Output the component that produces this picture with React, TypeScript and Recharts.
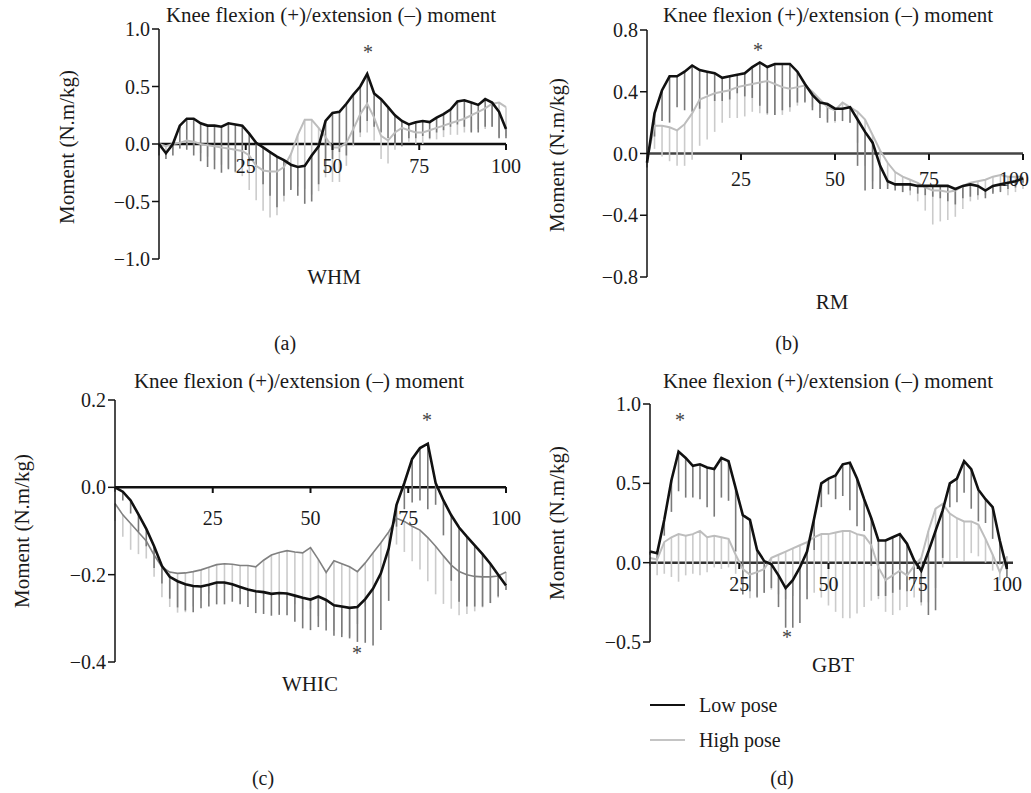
import React from 'react';
import { ComposedChart, Line, XAxis, YAxis, ReferenceLine, ErrorBar } from 'recharts';

// gait / movement cycle (%)
const pct = [0, 2, 4, 6, 8, 10, 12, 14, 16, 18, 20, 22, 24, 26, 28, 30, 32, 34, 36, 38, 40, 42, 44, 46, 48, 50, 52, 54, 56, 58, 60, 62, 64, 66, 68, 70, 72, 74, 76, 78, 80, 82, 84, 86, 88, 90, 92, 94, 96, 98, 100];
const xTickValues = [25, 50, 75, 100];

// (a) WHM
const whmLow = [0.0, -0.08, 0.0, 0.16, 0.22, 0.22, 0.18, 0.16, 0.16, 0.15, 0.18, 0.17, 0.16, 0.09, 0.01, -0.03, -0.07, -0.11, -0.14, -0.18, -0.2, -0.19, -0.1, -0.02, 0.2, 0.27, 0.28, 0.35, 0.43, 0.5, 0.61, 0.44, 0.39, 0.32, 0.25, 0.2, 0.17, 0.19, 0.2, 0.19, 0.23, 0.26, 0.3, 0.37, 0.38, 0.36, 0.34, 0.39, 0.36, 0.28, 0.13];
const whmHigh = [0.0, -0.02, 0.0, 0.01, 0.03, 0.02, 0.0, -0.01, -0.02, -0.03, -0.04, -0.05, -0.06, -0.1, -0.19, -0.23, -0.24, -0.24, -0.2, -0.09, 0.08, 0.21, 0.21, 0.14, 0.06, -0.03, -0.03, 0.01, 0.13, 0.26, 0.35, 0.23, 0.07, 0.03, 0.1, 0.14, 0.12, 0.1, 0.1, 0.12, 0.14, 0.16, 0.18, 0.2, 0.22, 0.25, 0.28, 0.31, 0.35, 0.36, 0.32];
const whmLowSd = [0.1, 0.05, 0.1, 0.2, 0.27, 0.32, 0.33, 0.36, 0.38, 0.4, 0.4, 0.41, 0.36, 0.24, 0.21, 0.32, 0.38, 0.44, 0.31, 0.22, 0.25, 0.33, 0.4, 0.33, 0.45, 0.4, 0.35, 0.45, 0.43, 0.4, 0.41, 0.29, 0.29, 0.27, 0.25, 0.22, 0.12, 0.14, 0.13, 0.14, 0.13, 0.14, 0.15, 0.2, 0.23, 0.26, 0.24, 0.24, 0.21, 0.23, 0.08];
const whmHighSd = [0.05, 0.08, 0.05, 0.05, 0.05, 0.06, 0.08, 0.1, 0.12, 0.15, 0.17, 0.2, 0.22, 0.3, 0.3, 0.35, 0.4, 0.38, 0.3, 0.3, 0.45, 0.6, 0.65, 0.55, 0.35, 0.3, 0.3, 0.2, 0.15, 0.2, 0.25, 0.2, 0.2, 0.2, 0.15, 0.12, 0.1, 0.1, 0.1, 0.08, 0.1, 0.1, 0.1, 0.12, 0.12, 0.14, 0.15, 0.18, 0.2, 0.3, 0.25];

// (b) RM
const rmLow = [-0.06, 0.26, 0.41, 0.5, 0.5, 0.53, 0.57, 0.54, 0.53, 0.52, 0.49, 0.5, 0.51, 0.52, 0.56, 0.59, 0.56, 0.58, 0.58, 0.58, 0.53, 0.45, 0.38, 0.33, 0.32, 0.29, 0.29, 0.3, 0.22, 0.14, 0.07, -0.08, -0.18, -0.2, -0.2, -0.2, -0.21, -0.21, -0.21, -0.21, -0.21, -0.23, -0.21, -0.2, -0.21, -0.24, -0.21, -0.2, -0.19, -0.18, -0.16];
const rmHigh = [-0.04, 0.18, 0.18, 0.17, 0.15, 0.19, 0.26, 0.35, 0.37, 0.39, 0.4, 0.41, 0.43, 0.44, 0.45, 0.46, 0.47, 0.45, 0.43, 0.42, 0.43, 0.44, 0.4, 0.35, 0.3, 0.28, 0.33, 0.3, 0.27, 0.22, 0.12, 0.02, -0.06, -0.12, -0.15, -0.17, -0.19, -0.22, -0.24, -0.24, -0.25, -0.24, -0.21, -0.19, -0.18, -0.17, -0.15, -0.14, -0.15, -0.15, -0.15];
const rmLowSd = [0.03, 0.15, 0.2, 0.3, 0.2, 0.25, 0.3, 0.25, 0.15, 0.18, 0.15, 0.15, 0.12, 0.15, 0.2, 0.28, 0.3, 0.33, 0.3, 0.28, 0.2, 0.12, 0.1, 0.1, 0.12, 0.08, 0.08, 0.1, 0.3, 0.38, 0.3, 0.15, 0.05, 0.04, 0.05, 0.04, 0.05, 0.06, 0.07, 0.08, 0.1, 0.1, 0.08, 0.08, 0.06, 0.05, 0.05, 0.05, 0.04, 0.04, 0.03];
const rmHighSd = [0.02, 0.15, 0.2, 0.22, 0.23, 0.27, 0.3, 0.3, 0.28, 0.25, 0.2, 0.18, 0.2, 0.2, 0.18, 0.2, 0.22, 0.2, 0.18, 0.15, 0.12, 0.1, 0.1, 0.08, 0.08, 0.08, 0.05, 0.1, 0.2, 0.3, 0.3, 0.25, 0.15, 0.1, 0.1, 0.1, 0.12, 0.15, 0.22, 0.2, 0.18, 0.17, 0.15, 0.12, 0.12, 0.1, 0.1, 0.1, 0.12, 0.1, 0.08];

// (c) WHIC
const whicLow = [0.0, -0.01, -0.03, -0.062, -0.095, -0.135, -0.18, -0.205, -0.215, -0.222, -0.226, -0.227, -0.223, -0.218, -0.218, -0.222, -0.228, -0.234, -0.238, -0.24, -0.244, -0.242, -0.243, -0.248, -0.253, -0.257, -0.25, -0.258, -0.27, -0.273, -0.276, -0.274, -0.256, -0.232, -0.197, -0.14, -0.04, 0.01, 0.065, 0.09, 0.1, 0.01, -0.03, -0.064, -0.092, -0.113, -0.133, -0.153, -0.175, -0.2, -0.225];
const whicHigh = [-0.037, -0.063, -0.083, -0.103, -0.123, -0.155, -0.182, -0.194, -0.197, -0.196, -0.193, -0.189, -0.183, -0.177, -0.175, -0.176, -0.179, -0.179, -0.182, -0.167, -0.155, -0.149, -0.145, -0.148, -0.15, -0.138, -0.165, -0.195, -0.168, -0.175, -0.182, -0.193, -0.173, -0.15, -0.127, -0.102, -0.071, -0.078, -0.089, -0.098, -0.115, -0.135, -0.157, -0.178, -0.193, -0.2, -0.204, -0.205, -0.205, -0.203, -0.194];
const whicLowSd = [0.01, 0.02, 0.03, 0.04, 0.04, 0.05, 0.04, 0.05, 0.06, 0.06, 0.06, 0.05, 0.05, 0.05, 0.05, 0.04, 0.04, 0.04, 0.05, 0.05, 0.05, 0.05, 0.05, 0.06, 0.07, 0.07, 0.07, 0.07, 0.07, 0.07, 0.07, 0.08, 0.1, 0.13, 0.13, 0.12, 0.05, 0.06, 0.1, 0.12, 0.15, 0.05, 0.08, 0.15, 0.17, 0.16, 0.14, 0.12, 0.09, 0.05, 0.01];
const whicHighSd = [0.04, 0.05, 0.06, 0.05, 0.04, 0.05, 0.07, 0.08, 0.09, 0.09, 0.08, 0.07, 0.06, 0.05, 0.05, 0.05, 0.06, 0.06, 0.06, 0.08, 0.09, 0.1, 0.11, 0.12, 0.13, 0.14, 0.13, 0.11, 0.16, 0.16, 0.16, 0.12, 0.1, 0.08, 0.07, 0.06, 0.06, 0.07, 0.08, 0.09, 0.1, 0.11, 0.11, 0.1, 0.1, 0.09, 0.08, 0.07, 0.06, 0.05, 0.04];

// (d) GBT
const gbtLow = [0.07, 0.06, 0.27, 0.52, 0.7, 0.66, 0.61, 0.62, 0.6, 0.59, 0.66, 0.64, 0.47, 0.3, 0.27, 0.08, 0.01, -0.01, -0.08, -0.16, -0.11, -0.03, 0.07, 0.28, 0.5, 0.53, 0.55, 0.62, 0.63, 0.53, 0.4, 0.28, 0.14, 0.14, 0.16, 0.18, 0.12, 0.015, -0.05, 0.07, 0.2, 0.33, 0.5, 0.53, 0.64, 0.59, 0.46, 0.4, 0.35, 0.14, -0.04];
const gbtHigh = [0.03, 0.02, 0.13, 0.16, 0.18, 0.17, 0.18, 0.2, 0.16, 0.17, 0.16, 0.15, 0.05, -0.04, -0.075, -0.06, -0.04, 0.03, 0.05, 0.07, 0.09, 0.11, 0.13, 0.16, 0.18, 0.18, 0.19, 0.2, 0.2, 0.18, 0.17, 0.11, -0.03, -0.11, -0.08, -0.05, -0.08, -0.02, 0.03, 0.2, 0.34, 0.37, 0.31, 0.28, 0.26, 0.26, 0.24, 0.15, 0.05, -0.06, 0.04];
const gbtLowSd = [0.02, 0.03, 0.1, 0.2, 0.25, 0.25, 0.2, 0.22, 0.25, 0.3, 0.25, 0.25, 0.4, 0.5, 0.45, 0.3, 0.2, 0.15, 0.2, 0.25, 0.3, 0.35, 0.3, 0.2, 0.15, 0.1, 0.15, 0.2, 0.3, 0.3, 0.2, 0.3, 0.35, 0.35, 0.35, 0.35, 0.3, 0.15, 0.2, 0.4, 0.5, 0.3, 0.15, 0.15, 0.2, 0.25, 0.2, 0.15, 0.2, 0.15, 0.05];
const gbtHighSd = [0.05, 0.1, 0.2, 0.25, 0.3, 0.25, 0.25, 0.28, 0.22, 0.2, 0.2, 0.18, 0.12, 0.12, 0.15, 0.15, 0.15, 0.2, 0.25, 0.3, 0.3, 0.28, 0.3, 0.35, 0.4, 0.45, 0.5, 0.55, 0.55, 0.5, 0.45, 0.35, 0.2, 0.2, 0.25, 0.25, 0.2, 0.2, 0.3, 0.45, 0.5, 0.4, 0.3, 0.25, 0.25, 0.2, 0.2, 0.15, 0.1, 0.05, 0.03];

const FONT = '"Liberation Serif", "DejaVu Serif", serif';
const TITLE = 'Knee flexion (+)/extension (\u2013) moment';

function build(low: number[], high: number[], lowSd: number[], highSd: number[]) {
  return pct.map((x, i) => ({
    x,
    low: low[i],
    high: high[i],
    lowErr: [lowSd[i], 0],
    highErr: [highSd[i], 0],
  }));
}

const fmt = (v: number) => (v < 0 ? '\u2212' : '') + Math.abs(v).toFixed(1);

type PanelProps = {
  left: number; top: number; width: number; height: number;
  margin: { top: number; right: number; bottom: number; left: number };
  data: any[];
  yDomain: [number, number];
  yTicks: number[];
  xDomain: [number, number];
  zeroColor: string;
  highColor: string;
  highWidth: number;
  tickGap: number;
  lastTickShift?: number;
};

const AXIS_W = 60;
const XAXIS_H = 44;
const EXTRA_W = 40; // room for the last tick label beyond the plot edge

function Panel(p: PanelProps) {
  const m = p.margin;
  const plotH = p.height - m.top - m.bottom;
  // pixel row of the zero line inside this panel (used to place the x-axis overlay)
  const zeroRow = m.top + (plotH * p.yDomain[1]) / (p.yDomain[1] - p.yDomain[0]);
  const overlayH = Math.round(zeroRow) + XAXIS_H;
  const renderTick = (t: any) => {
    const v = t.payload?.value;
    const shift = v === 100 ? (p.lastTickShift ?? 0) : 0;
    return (
      <text x={t.x + shift} y={t.y} dy="0.71em" textAnchor="middle" fontSize={20} fontFamily={FONT} fill="#1a1a1a">
        {String(v)}
      </text>
    );
  };
  return (
    <div style={{ position: 'absolute', left: p.left, top: p.top, width: p.width, height: p.height }}>
      <div style={{ position: 'absolute', left: 0, top: 0 }}>
        <ComposedChart width={p.width} height={p.height} data={p.data} margin={m}>
          <XAxis type="number" dataKey="x" domain={p.xDomain} hide />
          <YAxis
            type="number"
            domain={p.yDomain}
            ticks={p.yTicks}
            allowDataOverflow
            width={AXIS_W}
            tickFormatter={fmt}
            tickSize={7}
            axisLine={{ stroke: '#111', strokeWidth: 1.5 }}
            tickLine={{ stroke: '#111', strokeWidth: 1.5 }}
            tick={{ fill: '#1a1a1a', fontSize: 20, fontFamily: FONT }}
          />
          <ReferenceLine y={0} stroke={p.zeroColor} strokeWidth={2.5} />
          <Line dataKey="high" stroke="none" dot={false} isAnimationActive={false}>
            <ErrorBar dataKey="highErr" direction="y" width={0} stroke="#cbcbcb" strokeWidth={1.6} />
          </Line>
          <Line dataKey="low" stroke="none" dot={false} isAnimationActive={false}>
            <ErrorBar dataKey="lowErr" direction="y" width={0} stroke="#7a7a7a" strokeWidth={1.6} />
          </Line>
          <Line dataKey="high" type="linear" stroke={p.highColor} strokeWidth={p.highWidth} dot={false} isAnimationActive={false} />
          <Line dataKey="low" type="linear" stroke="#111" strokeWidth={2.6} dot={false} isAnimationActive={false} />
        </ComposedChart>
      </div>
      {/* x axis drawn along the zero line: same horizontal scale, plot bottom at the zero row */}
      <div style={{ position: 'absolute', left: 0, top: 0, pointerEvents: 'none' }}>
        <ComposedChart width={p.width + EXTRA_W} height={overlayH} data={p.data}
          margin={{ top: m.top, right: m.right + EXTRA_W, bottom: 0, left: m.left + AXIS_W }}>
          <XAxis
            type="number"
            dataKey="x"
            domain={p.xDomain}
            ticks={xTickValues}
            interval={0}
            height={XAXIS_H}
            axisLine={false}
            tickSize={6}
            tickMargin={p.tickGap}
            tickLine={{ stroke: '#111', strokeWidth: 2 }}
            tick={renderTick}
          />
          <YAxis hide domain={p.yDomain} type="number" />
          <Line dataKey="low" stroke="none" dot={false} isAnimationActive={false} />
        </ComposedChart>
      </div>
    </div>
  );
}

const T = (props: { x: number; y: number; size?: number; rotate?: boolean; color?: string; children: React.ReactNode; align?: string }) => (
  <div
    style={{
      position: 'absolute',
      left: props.x,
      top: props.y,
      transform: `translate(${props.align === 'left' ? '0' : '-50%'}, -50%)${props.rotate ? ' rotate(-90deg)' : ''}`,
      transformOrigin: props.rotate ? 'center center' : undefined,
      fontFamily: FONT,
      fontSize: props.size ?? 21,
      color: props.color ?? '#1a1a1a',
      whiteSpace: 'nowrap',
      lineHeight: 1,
    }}
  >
    {props.children}
  </div>
);

export default function App() {
  const dA = build(whmLow, whmHigh, whmLowSd, whmHighSd);
  const dB = build(rmLow, rmHigh, rmLowSd, rmHighSd);
  const dC = build(whicLow, whicHigh, whicLowSd, whicHighSd);
  const dD = build(gbtLow, gbtHigh, gbtLowSd, gbtHighSd);
  return (
    <div style={{ position: 'absolute', left: 0, top: 0, width: 1031, height: 793, background: '#fff', overflow: 'hidden' }}>
      <Panel left={0} top={0} width={515} height={360}
        margin={{ top: 29, right: 9, bottom: 101, left: 99 }}
        data={dA} yDomain={[-1, 1]} yTicks={[-1, -0.5, 0, 0.5, 1]} xDomain={[0, 100]}
        zeroColor="#111" highColor="#bdbdbd" highWidth={2} tickGap={9} />
      <Panel left={515} top={0} width={516} height={360}
        margin={{ top: 30, right: 8, bottom: 83, left: 72 }}
        data={dB} yDomain={[-0.8, 0.8]} yTicks={[-0.8, -0.4, 0, 0.4, 0.8]} xDomain={[0, 100]}
        zeroColor="#444" highColor="#bdbdbd" highWidth={2} tickGap={12} lastTickShift={-9} />
      <Panel left={0} top={360} width={515} height={433}
        margin={{ top: 40, right: 9, bottom: 131, left: 55 }}
        data={dC} yDomain={[-0.4, 0.2]} yTicks={[-0.4, -0.2, 0, 0.2]} xDomain={[0, 100]}
        zeroColor="#111" highColor="#808080" highWidth={1.6} tickGap={18} />
      <Panel left={515} top={360} width={516} height={433}
        margin={{ top: 44, right: 18, bottom: 151, left: 75 }}
        data={dD} yDomain={[-0.5, 1]} yTicks={[-0.5, 0, 0.5, 1]} xDomain={[0, 101.7]}
        zeroColor="#333" highColor="#bdbdbd" highWidth={2} tickGap={8} />

      {/* titles */}
      <T x={331} y={15}>{TITLE}</T>
      <T x={828} y={15}>{TITLE}</T>
      <T x={299} y={381}>{TITLE}</T>
      <T x={828} y={381}>{TITLE}</T>

      {/* y labels */}
      <T x={67} y={147} rotate>Moment (N.m/kg)</T>
      <T x={557} y={155} rotate>Moment (N.m/kg)</T>
      <T x={22} y={531} rotate>Moment (N.m/kg)</T>
      <T x={557} y={523} rotate>Moment (N.m/kg)</T>

      {/* x labels */}
      <T x={334} y={277}>WHM</T>
      <T x={832} y={302}>RM</T>
      <T x={310} y={684}>WHIC</T>
      <T x={833} y={665}>GBT</T>

      {/* significance markers */}
      <T x={368} y={52} size={20} color="#444">*</T>
      <T x={758} y={50} size={20} color="#444">*</T>
      <T x={427} y={420} size={20} color="#444">*</T>
      <T x={357} y={653} size={20} color="#444">*</T>
      <T x={680} y={420} size={20} color="#444">*</T>
      <T x={787} y={637} size={20} color="#444">*</T>

      {/* subplot labels */}
      <T x={285} y={343} size={20}>(a)</T>
      <T x={787} y={343} size={20}>(b)</T>
      <T x={263} y={778} size={20}>(c)</T>
      <T x={782} y={778} size={20}>(d)</T>

      {/* legend */}
      <div style={{ position: 'absolute', left: 650, top: 704, width: 35, height: 0, borderTop: '2px solid #111' }} />
      <T x={699} y={705} size={20} align="left">Low pose</T>
      <div style={{ position: 'absolute', left: 650, top: 739, width: 35, height: 0, borderTop: '2px solid #c4c4c4' }} />
      <T x={699} y={740} size={20} align="left">High pose</T>
    </div>
  );
}
